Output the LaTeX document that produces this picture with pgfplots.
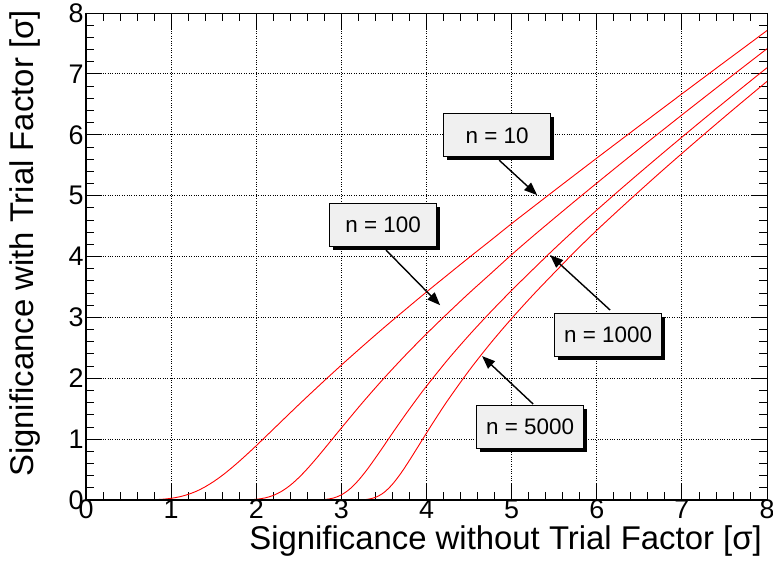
\documentclass[border=0pt]{standalone}
\usepackage{fontspec}
\setmainfont{Liberation Sans}
\usepackage{pgfplots}
\pgfplotsset{compat=1.18}
\usetikzlibrary{arrows.meta,shadows}
\definecolor{boxgray}{RGB}{240,240,240}
\tikzset{
  box/.style={draw, line width=0.8bp, fill=boxgray, minimum width=107bp, minimum height=43bp,
    font=\fontsize{22.5}{22.5}\selectfont, general shadow={fill=black, shadow xshift=3.5bp, shadow yshift=-3.5bp}},
  arr/.style={-{Triangle[length=13bp,width=10bp]}, line width=1.4bp},
}
\begin{document}
\begin{tikzpicture}
\begin{axis}[name=ax, scale only axis, width=681bp, height=487bp,
  xmin=0, xmax=8, ymin=0, ymax=8,
  xtick={0,1,...,8}, ytick={0,1,...,8},
  minor tick num=4,
  tick align=inside,
  major tick length=16bp, minor tick length=8bp,
  grid=major, grid style={dotted, black, line width=0.8bp},
  axis line style={line width=0.8bp},
  tick style={black, line width=0.8bp},
  ticklabel style={font=\fontsize{27}{27}\selectfont},
  xticklabel style={yshift=4bp},
  yticklabel style={xshift=1bp},
  /pgf/number format/assume math mode=true,
]
\addplot[red, line width=0.9bp, smooth] coordinates {
(0.8,0.005)(0.9,0.0127)(1.0,0.0276)(1.1,0.0529)(1.2,0.092)(1.3,0.146)(1.4,0.217)(1.5,0.3035)(1.6,0.403)(1.7,0.515)(1.8,0.635)(1.9,0.762)(2.0,0.892)(2.25,1.230)(2.5,1.567)(2.75,1.895)(3.0,2.216)(3.25,2.527)(3.5,2.831)(3.75,3.126)(4.0,3.417)(4.25,3.701)(4.5,3.983)(4.75,4.26)(5.0,4.54)(5.25,4.811)(5.5,5.081)(5.75,5.349)(6.0,5.616)(6.25,5.881)(6.5,6.145)(6.75,6.408)(7.0,6.671)(7.25,6.932)(7.5,7.193)(7.75,7.452)(8.0,7.712)};
\addplot[red, line width=0.9bp, smooth] coordinates {
(1.9,0.0034)(2.0,0.0119)(2.1,0.0331)(2.2,0.075)(2.3,0.1446)(2.4,0.2424)(2.5,0.3677)(2.6,0.513)(2.7,0.673)(2.8,0.841)(2.9,1.012)(3.0,1.183)(3.25,1.602)(3.5,2.000)(3.75,2.375)(4.0,2.730)(4.25,3.069)(4.5,3.398)(4.75,3.713)(5.0,4.03)(5.25,4.333)(5.5,4.627)(5.75,4.918)(6.0,5.205)(6.25,5.489)(6.5,5.770)(6.75,6.048)(7.0,6.325)(7.25,6.599)(7.5,6.872)(7.75,7.143)(8.0,7.413)};
\addplot[red, line width=0.9bp, smooth] coordinates {
(2.7,0.0012)(2.8,0.0075)(2.9,0.0299)(3.0,0.084)(3.1,0.1816)(3.2,0.3227)(3.3,0.496)(3.4,0.690)(3.5,0.892)(3.6,1.098)(3.75,1.398)(3.9,1.686)(4.0,1.870)(4.25,2.305)(4.5,2.707)(4.75,3.084)(5.0,3.443)(5.25,3.787)(5.5,4.125)(5.75,4.450)(6.0,4.762)(6.25,5.069)(6.5,5.370)(6.75,5.667)(7.0,5.960)(7.25,6.250)(7.5,6.536)(7.75,6.820)(8.0,7.101)};
\addplot[red, line width=0.9bp, smooth] coordinates {
(3.2,0.0013)(3.3,0.0099)(3.4,0.0431)(3.5,0.1226)(3.6,0.2587)(3.7,0.441)(3.8,0.652)(3.9,0.875)(4.0,1.100)(4.1,1.320)(4.25,1.638)(4.5,2.126)(4.75,2.571)(5.0,2.981)(5.25,3.366)(5.5,3.731)(5.75,4.09)(6.0,4.430)(6.25,4.755)(6.5,5.073)(6.75,5.386)(7.0,5.692)(7.25,5.994)(7.5,6.292)(7.75,6.586)(8.0,6.876)};
\draw[arr] (axis cs:4.853,5.583) -- (axis cs:5.30,5.008);
\draw[arr] (axis cs:3.525,4.105) -- (axis cs:4.16,3.20);
\draw[arr] (axis cs:6.157,3.12) -- (axis cs:5.452,4.023);
\draw[arr] (axis cs:5.253,1.576) -- (axis cs:4.653,2.364);
\node[box] at (axis cs:4.83,5.99) {n = 10};
\node[box] at (axis cs:3.49,4.516) {n = 100};
\node[box] at (axis cs:6.134,2.709) {n = 1000};
\node[box] at (axis cs:5.217,1.199) {n = 5000};
\end{axis}
\draw[line width=2bp] (ax.north west) -- (ax.south west) -- (ax.south east);
\node[rotate=90, anchor=base east, inner sep=0pt, font=\fontsize{33}{33}\selectfont]
  at ([shift={(-52bp,3bp)}]ax.north west) {Significance with Trial Factor [σ]};
\node[anchor=base east, inner sep=0pt, font=\fontsize{33}{33}\selectfont]
  at ([shift={(-5bp,-50bp)}]ax.south east) {Significance without Trial Factor [σ]};
\pgfresetboundingbox
\path[use as bounding box] ([shift={(-86bp,-72bp)}]ax.south west) rectangle ([shift={(6bp,13bp)}]ax.north east);
\end{tikzpicture}
\end{document}
